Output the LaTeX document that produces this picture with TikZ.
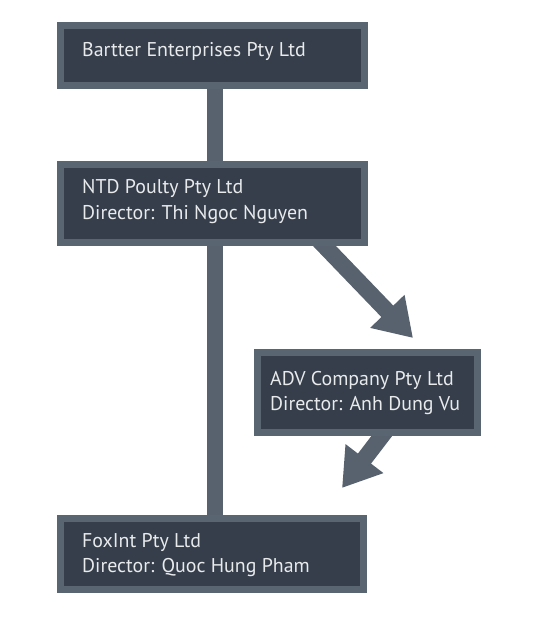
\documentclass[tikz,border=0pt]{standalone}
\usepackage{fontspec}
\setmainfont{PT Sans}
\usetikzlibrary{arrows.meta}
\pgfdeclarelayer{background}
\pgfsetlayers{background,main}
\definecolor{bordercol}{HTML}{5A6572}
\definecolor{fillcol}{HTML}{353E4A}
\definecolor{conncol}{HTML}{57626E}
\definecolor{txtcol}{HTML}{E8EAEC}
\begin{document}
\begin{tikzpicture}[x=1pt,y=-1pt,
  box/.style={draw=bordercol, fill=fillcol, line width=7pt, rectangle, inner sep=0pt, outer sep=0pt},
  txt/.style={anchor=base west, inner sep=0pt, text=txtcol, font=\fontsize{19.9}{24}\selectfont},
  conn/.style={draw=conncol, line width=16.7pt},
  bigarrow/.style={draw=conncol, line width=16.5pt, -{Triangle[length=37pt,width=45pt,fill=conncol]}}]
\useasboundingbox (0,0) rectangle (542,620);
% boxes
\node[box, minimum width=304pt, minimum height=60pt] (b1) at (212.5,55.5) {};
\node[box, minimum width=304pt, minimum height=78pt] (b2) at (212.5,203.5) {};
\node[box, minimum width=220pt, minimum height=80pt] (b3) at (367.5,392.5) {};
\node[box, minimum width=303pt, minimum height=71pt] (b4) at (212,554) {};
% connectors behind the boxes
\begin{pgfonlayer}{background}
\draw[conn] ([xshift=2.5pt]b1.south) -- ([xshift=2.5pt]b2.north);
\draw[conn] ([xshift=2.5pt]b2.south) -- ([xshift=3pt]b4.north);
\draw[bigarrow] ([xshift=98.5pt,yshift=10.5pt]b2.south) -- ([xshift=45.5pt,yshift=14.5pt]b3.north);
\draw[bigarrow] ([xshift=24.2pt,yshift=9.5pt]b3.south) -- ([xshift=130pt,yshift=30.5pt]b4.north);
\end{pgfonlayer}
% texts
\node[txt] (t1) at (82,57) {Bartter Enterprises Pty Ltd};
\node[txt] (t2a) at (82,194) {NTD Poulty Pty Ltd};
\node[txt] (t2b) at (82,219) {Director: Thi Ngoc Nguyen};
\node[txt] (t3a) at (270,385) {ADV Company Pty Ltd};
\node[txt] (t3b) at (270,410) {Director: Anh Dung Vu};
\node[txt] (t4a) at (82,547) {FoxInt Pty Ltd};
\node[txt] (t4b) at (82,572) {Director: Quoc Hung Pham};
\end{tikzpicture}
\end{document}
